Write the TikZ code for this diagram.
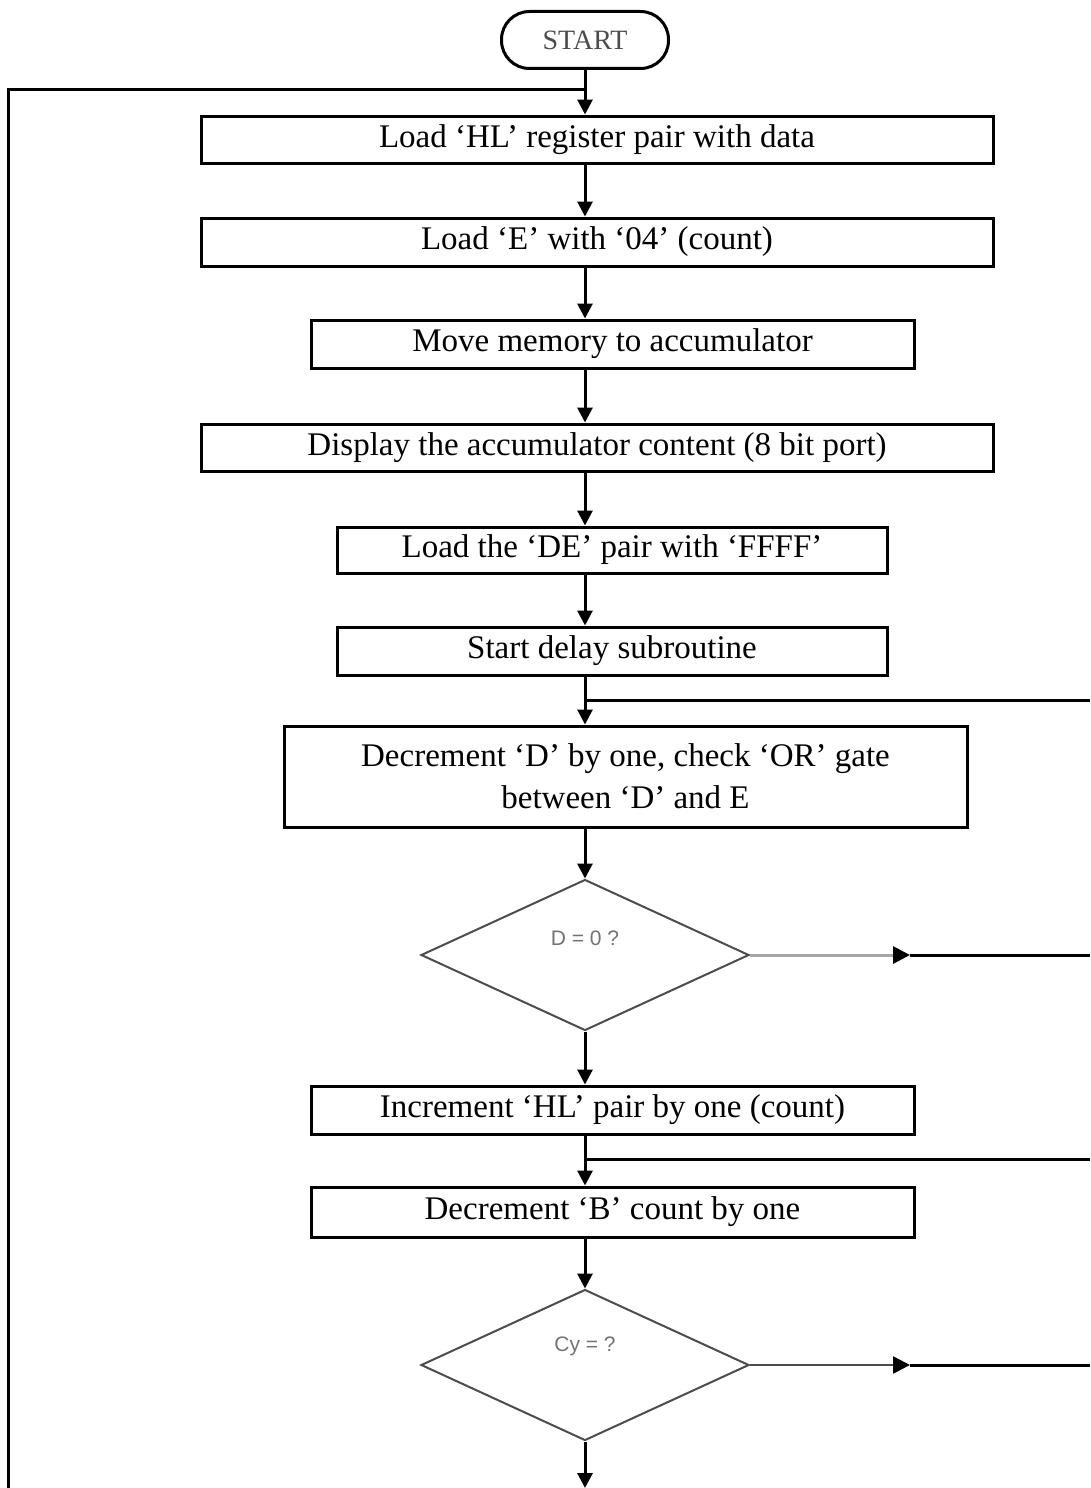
\documentclass[tikz,border=0pt]{standalone}
\usepackage{fontspec}
\setmainfont{Liberation Serif}
\newfontfamily\dsans{Liberation Sans}
\usetikzlibrary{shapes.geometric,arrows.meta}
\begin{document}
\begin{tikzpicture}[x=1pt,y=-1pt,
  box/.style={draw, line width=3pt, rectangle, inner sep=0pt, align=center,
    font=\fontsize{33}{42}\selectfont},
  ln/.style={line width=3pt},
  arr/.style={line width=3pt, -{Triangle[length=15pt,width=15pt]}},
  dia/.style={draw=black!70, line width=2pt, diamond, minimum width=328pt,
    minimum height=151pt, inner sep=0pt},
  dtext/.style={font=\dsans\fontsize{21}{24}\selectfont, text=black!55},
  ]
\useasboundingbox (0,0) rectangle (1090,1488);
\coordinate (ax) at (585,0);
\node[draw, rounded corners=28pt, line width=3pt, minimum width=167pt, minimum height=57pt,
  font=\fontsize{28}{30}\selectfont, text=black!70] (start) at (585,40) {START};
\node[box, minimum width=792pt, minimum height=47pt] (b1) at (597,139.5) {Load ‘HL’ register pair with data};
\node[box, minimum width=792pt, minimum height=48pt] (b2) at (597,242) {Load ‘E’ with ‘04’ (count)};
\node[box, minimum width=603pt, minimum height=48pt] (b3) at (612.5,344) {Move memory to accumulator};
\node[box, minimum width=792pt, minimum height=47pt] (b4) at (597,447.5) {Display the accumulator content (8 bit port)};
\node[box, minimum width=550pt, minimum height=46pt] (b5) at (612,550) {Load the ‘DE’ pair with ‘FFFF’};
\node[box, minimum width=550pt, minimum height=48pt] (b6) at (612,651) {Start delay subroutine};
\node[box, minimum width=683pt, minimum height=101pt] (b7) at (625.5,776.5) {Decrement ‘D’ by one, check ‘OR’ gate\\between ‘D’ and E};
\node[dia, label={[dtext, yshift=17pt]center:{D = 0 ?}}] (d1) at (585,955) {};
\node[box, minimum width=603pt, minimum height=48pt] (b8) at (612.5,1110) {Increment ‘HL’ pair by one (count)};
\node[box, minimum width=603pt, minimum height=50pt] (b9) at (612.5,1212) {Decrement ‘B’ count by one};
\node[dia, label={[dtext, yshift=19pt]center:{Cy = ?}}] (d2) at (585,1365) {};
% coordinates
\coordinate (jtop) at (585,89);
\coordinate (lbot) at (8,1488);
\coordinate (r1) at (1090,700);
\coordinate (r2) at (1090,1159);
\coordinate (a1) at (910,955);
\coordinate (a2) at (910,1365);
\coordinate (bot) at (585,1488);
% connectors
\draw[ln] (lbot) |- (jtop);
\draw[arr] (start.south) -- (b1.north -| ax);
\draw[arr] (b1.south -| ax) -- (b2.north -| ax);
\draw[arr] (b2.south -| ax) -- (b3.north -| ax);
\draw[arr] (b3.south -| ax) -- (b4.north -| ax);
\draw[arr] (b4.south -| ax) -- (b5.north -| ax);
\draw[arr] (b5.south -| ax) -- (b6.north -| ax);
\draw[arr] (b6.south -| ax) -- (b7.north -| ax);
\draw[ln] (r1) -- (r1 -| ax);
\draw[arr] (b7.south -| ax) -- (d1.north);
\draw[line width=3pt, black!35, -{Triangle[length=17pt,width=17pt,black]}] (d1.east) -- (a1);
\draw[ln] (a1) -- (a1 -| r1);
\draw[arr] (d1.south) -- (b8.north -| ax);
\draw[arr] (b8.south -| ax) -- (b9.north -| ax);
\draw[ln] (r2) -- (r2 -| ax);
\draw[arr] (b9.south -| ax) -- (d2.north);
\draw[line width=2.5pt, black!70, -{Triangle[length=17pt,width=17pt,black]}] (d2.east) -- (a2);
\draw[ln] (a2) -- (a2 -| r1);
\draw[arr] (d2.south) -- (bot);
\end{tikzpicture}
\end{document}
